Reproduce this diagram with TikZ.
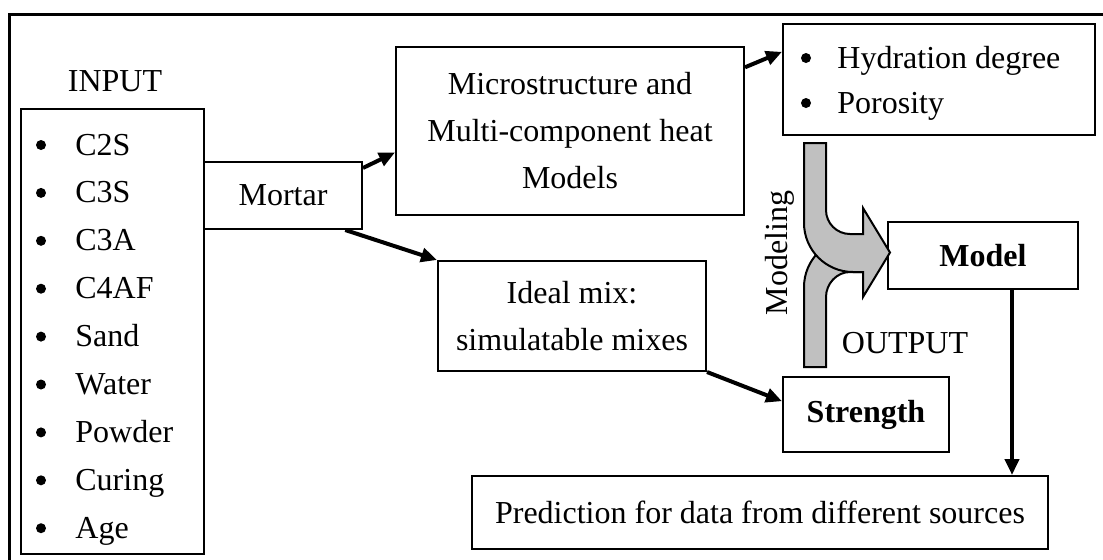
\documentclass[tikz,border=0pt]{standalone}
\usepackage{fontspec}
\setmainfont{Liberation Serif}
\usetikzlibrary{calc,arrows.meta}
\definecolor{shaftgray}{RGB}{192,192,192}
\newcommand\diagfont{\fontsize{16}{23.5}\selectfont}

\begin{document}
\begin{tikzpicture}[x=0.5pt,y=-0.5pt,font=\diagfont,
    box/.style={draw,line width=1pt,inner sep=0pt,align=center},
    arr/.style={line width=2pt,-{Triangle[length=8pt,width=7pt]}},
    item/.style={anchor=base west,inner sep=0pt},
    dot/.style={circle,fill,inner sep=0pt,minimum size=5pt}
  ]
  \clip (0,0) rectangle (1103,559);
  \draw[line width=1.5pt] (9,14) rectangle (1120,580);

  % input list
  \node (input) at (115,81) {INPUT};
  \node[box,minimum width=91.5pt,minimum height=222.5pt] (inp) at (112.5,331.5) {};
  \foreach \name [count=\i from 0] in {C2S,C3S,C3A,C4AF,Sand,Water,Powder,Curing,Age}
    {
      \node[dot] (dot\i) at (41,145+47.9*\i) {};
      \node[item] (in\i) at (75,155+47.9*\i) {\name};
    }

  \node[box,minimum width=79pt,minimum height=33.5pt] (mortar) at (283,195.5) {Mortar};
  \node[box,minimum width=174pt,minimum height=84pt] (micro) at (570,131) {Microstructure and\\Multi-component heat\\Models};
  \node[box,minimum width=156pt,minimum height=55.5pt] (hyd) at (939,79.5) {};
  \node[dot] (hdot1) at (806,58) {};
  \node[item] (hyd1) at (837,68) {Hydration degree};
  \node[dot] (hdot2) at (806,103) {};
  \node[item] (hyd2) at (837,113) {Porosity};
  \node[box,minimum width=134pt,minimum height=55pt] (ideal) at (572,316) {Ideal mix:\\simulatable mixes};
  \node[box,minimum width=83pt,minimum height=37.5pt,font=\diagfont\bfseries] (strength) at (866,414.5) {Strength};
  \node[box,minimum width=95pt,minimum height=33.5pt,font=\diagfont\bfseries] (model) at (983,255.5) {Model};
  \node[box,minimum width=288pt,minimum height=36.5pt] (pred) at (760,512.5) {Prediction for data from different sources};

  % merging arrow
  \filldraw[fill=shaftgray,line width=1pt] (804,367) -- (804,287) .. controls (804,260) and (826,238) .. (853,238) -- (863,238) -- (863,272) -- (850,272) .. controls (836.75,272) and (826,283.75) .. (826,297) -- (826,367) -- cycle;
  \filldraw[fill=shaftgray,line width=1pt] (804,143) -- (826,143) -- (826,210) .. controls (826,223.25) and (836.75,234) .. (850,234) -- (863,234) -- (863,208) -- (890,252.5) -- (863,297) -- (863,272) -- (853,272) .. controls (826,272) and (804,250) .. (804,223) -- cycle;
  \node[rotate=90] (modeling) at (780,253) {Modeling};
  \node (output) at (905,343) {OUTPUT};

  \draw[arr] (mortar.19) -- (micro.187);
  \draw[arr] (micro.20) -- (hyd.170);
  \draw[arr] (mortar.-29) -- (ideal.north west);
  \draw[arr] (ideal.south east) -- (strength.171);
  \coordinate (mdrop) at ([xshift=14.5pt]model.south);
  \draw[arr] (mdrop) -- (mdrop |- pred.north);
\end{tikzpicture}
\end{document}
